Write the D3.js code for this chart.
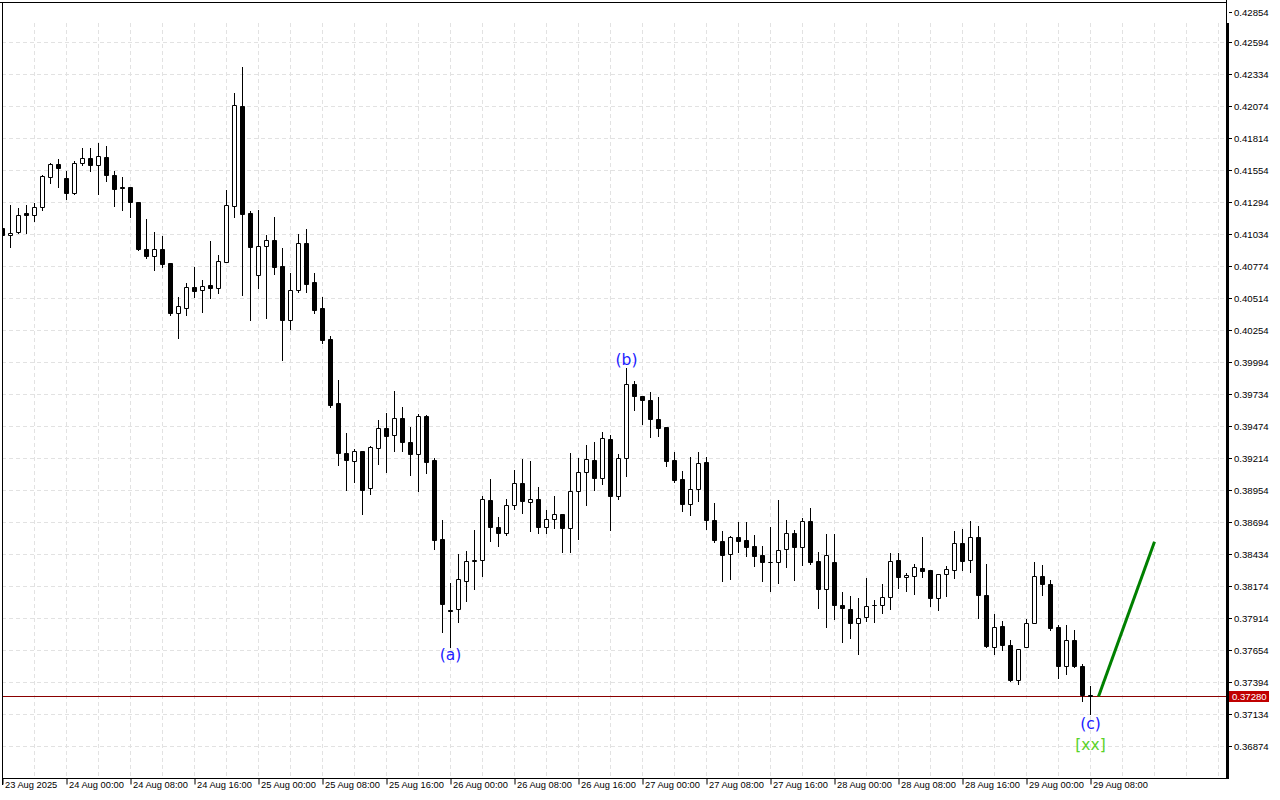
<!DOCTYPE html>
<html><head><meta charset="utf-8">
<script src="https://cdn.jsdelivr.net/npm/d3@7"></script>
<style>html,body{margin:0;padding:0;background:#fff;overflow:hidden}svg{display:block}</style>
</head><body><svg id="c" width="1280" height="800"></svg>
<script>
// ---- DATA (H1 candles, 23 Aug 2025 16:00 .. 29 Aug 2025 08:00) ----
const opens = [0.41084,0.41024,0.41049,0.41201,0.41190,0.41252,0.41496,0.41604,0.41485,0.41369,
0.41613,0.41653,0.41596,0.41661,0.41517,0.41413,0.41414,0.41298,0.40916,0.40857,
0.40916,0.40797,0.40394,0.40434,0.40605,0.40581,0.40616,0.40594,0.40808,0.41263,
0.42078,0.41201,0.40703,0.40938,0.40987,0.40770,0.40337,0.40581,0.40957,0.40640,
0.40429,0.40177,0.39657,0.39251,0.39188,0.39273,0.38969,0.39297,0.39454,0.39403,
0.39541,0.39348,0.39248,0.39559,0.39194,0.38552,0.37979,0.37989,0.38216,0.38381,
0.38389,0.38874,0.38655,0.38603,0.38834,0.39013,0.38858,0.38883,0.38655,0.38720,
0.38763,0.38647,0.38948,0.39102,0.39199,0.39053,0.39372,0.38907,0.39210,0.39819,
0.39714,0.39687,0.39533,0.39462,0.39199,0.39045,0.38842,0.38964,0.39183,0.38712,
0.38541,0.38436,0.38574,0.38549,0.38495,0.38422,0.38371,0.38367,0.38476,0.38606,
0.38493,0.38704,0.38379,0.38148,0.38371,0.38021,0.37990,0.37873,0.37924,0.38020,
0.38021,0.38086,0.38387,0.38249,0.38257,0.38322,0.38300,0.38078,0.38273,0.38306,
0.38525,0.38387,0.38574,0.38103,0.37680,0.37851,0.37696,0.37412,0.37680,0.37875,
0.38254,0.38192,0.37843,0.37526,0.37737,0.37528,0.37290];
const highs = [0.41087,0.41274,0.41247,0.41274,0.41288,0.41517,0.41615,0.41647,0.41550,0.41631,
0.41734,0.41734,0.41777,0.41753,0.41548,0.41501,0.41420,0.41298,0.41160,0.41054,
0.41022,0.40802,0.40526,0.40638,0.40770,0.40664,0.40981,0.40867,0.41396,0.42184,
0.42397,0.41225,0.41233,0.41030,0.41176,0.40922,0.40724,0.41041,0.41079,0.40721,
0.40526,0.40209,0.39852,0.39421,0.39291,0.39275,0.39316,0.39527,0.39584,0.39762,
0.39632,0.39470,0.39576,0.39567,0.39218,0.38714,0.38200,0.38438,0.38465,0.38633,
0.38912,0.39047,0.38739,0.38887,0.39121,0.39210,0.39194,0.38982,0.38796,0.38909,
0.38763,0.39259,0.39221,0.39324,0.39348,0.39429,0.39405,0.39251,0.39947,0.39841,
0.39714,0.39752,0.39711,0.39468,0.39264,0.39110,0.39224,0.39264,0.39224,0.38850,
0.38623,0.38584,0.38696,0.38696,0.38590,0.38503,0.38657,0.38879,0.38714,0.38631,
0.38728,0.38809,0.38452,0.38598,0.38598,0.38133,0.38094,0.38081,0.38243,0.38067,
0.38194,0.38449,0.38449,0.38286,0.38357,0.38576,0.38303,0.38273,0.38338,0.38623,
0.38639,0.38706,0.38666,0.38354,0.37948,0.37891,0.37737,0.37664,0.37912,0.38371,
0.38346,0.38224,0.37859,0.37859,0.37823,0.37544,0.37368];
const lows = [0.41022,0.40935,0.41044,0.41049,0.41146,0.41236,0.41455,0.41422,0.41320,0.41366,
0.41596,0.41552,0.41366,0.41471,0.41268,0.41236,0.41179,0.40908,0.40846,0.40746,
0.40772,0.40380,0.40197,0.40380,0.40526,0.40407,0.40521,0.40561,0.40808,0.41179,
0.40545,0.40342,0.40602,0.40358,0.40711,0.40014,0.40264,0.40564,0.40569,0.40399,
0.40155,0.39635,0.39164,0.38958,0.39026,0.38766,0.38928,0.39172,0.39107,0.39277,
0.39277,0.39082,0.38952,0.39099,0.38481,0.37807,0.37685,0.37888,0.38059,0.38151,
0.38262,0.38546,0.38506,0.38595,0.38806,0.38774,0.38627,0.38606,0.38606,0.38647,
0.38457,0.38452,0.38562,0.38839,0.38961,0.39009,0.38636,0.38885,0.39072,0.39611,
0.39497,0.39391,0.39399,0.39157,0.39027,0.38787,0.38757,0.38871,0.38644,0.38538,
0.38221,0.38237,0.38457,0.38424,0.38343,0.38221,0.38140,0.38205,0.38335,0.38229,
0.38351,0.38359,0.38002,0.37847,0.37912,0.37726,0.37758,0.37623,0.37896,0.37883,
0.37956,0.37994,0.38162,0.38140,0.38116,0.38251,0.38018,0.37986,0.38097,0.38246,
0.38311,0.38289,0.37921,0.37682,0.37628,0.37661,0.37406,0.37379,0.37680,0.37875,
0.38107,0.37818,0.37433,0.37466,0.37522,0.37246,0.37136];
const closes = [0.41024,0.41044,0.41192,0.41187,0.41257,0.41504,0.41604,0.41572,0.41366,0.41613,
0.41653,0.41593,0.41669,0.41512,0.41398,0.41411,0.41292,0.40914,0.40854,0.40916,
0.40792,0.40394,0.40445,0.40605,0.40569,0.40613,0.40594,0.40816,0.41271,0.42084,
0.41195,0.40927,0.40938,0.40987,0.40764,0.40334,0.40583,0.40957,0.40626,0.40415,
0.40173,0.39641,0.39251,0.39196,0.39273,0.38958,0.39305,0.39459,0.39391,0.39541,
0.39342,0.39245,0.39557,0.39180,0.38546,0.38024,0.37971,0.38227,0.38381,0.38385,
0.38883,0.38652,0.38603,0.38836,0.39013,0.38863,0.38883,0.38655,0.38720,0.38763,
0.38644,0.38948,0.39102,0.39208,0.39050,0.39378,0.38904,0.39210,0.39819,0.39716,
0.39687,0.39533,0.39459,0.39190,0.39035,0.38839,0.38964,0.39175,0.38709,0.38546,
0.38424,0.38576,0.38538,0.38489,0.38416,0.38367,0.38367,0.38468,0.38606,0.38493,
0.38704,0.38365,0.38148,0.38422,0.38018,0.37995,0.37872,0.37916,0.38010,0.38022,
0.38086,0.38379,0.38249,0.38265,0.38330,0.38298,0.38075,0.38273,0.38314,0.38525,
0.38379,0.38574,0.38103,0.37685,0.37843,0.37693,0.37409,0.37664,0.37875,0.38255,
0.38192,0.37829,0.37522,0.37737,0.37522,0.37287,0.37280];

const timeLabels = ["23 Aug 2025","24 Aug 00:00","24 Aug 08:00","24 Aug 16:00","25 Aug 00:00","25 Aug 08:00",
"25 Aug 16:00","26 Aug 00:00","26 Aug 08:00","26 Aug 16:00","27 Aug 00:00","27 Aug 08:00","27 Aug 16:00",
"28 Aug 00:00","28 Aug 08:00","28 Aug 16:00","29 Aug 00:00","29 Aug 08:00"];
const priceTicks = [0.42854,0.42594,0.42334,0.42074,0.41814,0.41554,0.41294,0.41034,0.40774,0.40514,
0.40254,0.39994,0.39734,0.39474,0.39214,0.38954,0.38694,0.38434,0.38174,0.37914,0.37654,0.37394,0.37134,0.36874];
const bidPrice = 0.37280;

const waveLabels = ["(a)","(b)","(c)","[xx]"];
const waveIndex  = [56, 78, 136, 136];
const wavePrice  = [0.37617, 0.40018, 0.37057, 0.36890];
const waveColors = ["#2020ff","#2020ff","#2020ff","#5ad22a"];

const projIndex = [137, 144];
const projPrice = [0.37280, 0.38538];

// ---- DRAW ----
const svg = d3.select("#c");
const L = 2, T = 2, R = 1226, B = 778.5;
const candleStep = 8;
const x = d3.scaleLinear().domain([0, 1]).range([2.5, 2.5 + candleStep]);
const y = d3.scaleLinear().domain([0.36874, 0.42854]).range([746.5, 10.5]);
const sn = v => Math.round(v - 0.5) + 0.5;

svg.append("rect").attr("width",1280).attr("height",800).attr("fill","#fff");
const defs = svg.append("defs");
defs.append("clipPath").attr("id","clip").append("rect")
  .attr("x",L).attr("y",T).attr("width",R-L).attr("height",B-T);

const plot = svg.append("g").attr("clip-path","url(#clip)");

// grid
const gridCol = "#e2e2e2";
const vIdx = d3.range(4, 200, 4).filter(i => x(i) < R);
plot.append("g").selectAll("line").data(vIdx).join("line")
  .attr("x1", d => x(d)).attr("x2", d => x(d)).attr("y1", 23).attr("y2", B)
  .attr("stroke", gridCol).attr("stroke-dasharray","4,3").attr("stroke-width",1);
plot.append("g").selectAll("line").data(priceTicks.filter(p => y(p) > 23)).join("line")
  .attr("x1", L).attr("x2", R).attr("y1", d => sn(y(d))).attr("y2", d => sn(y(d)))
  .attr("stroke", gridCol).attr("stroke-dasharray","4,3").attr("stroke-width",1);

// bid line
plot.append("line").attr("x1",L).attr("x2",R)
  .attr("y1", sn(y(bidPrice))).attr("y2", sn(y(bidPrice)))
  .attr("stroke","#8a0000").attr("stroke-width",1);

// candles
const data = opens.map((o,i)=>({i, o, h:highs[i], l:lows[i], c:closes[i]}));
const cg = plot.append("g");
cg.selectAll("line.w").data(data).join("line").attr("class","w")
  .attr("x1", d => x(d.i)).attr("x2", d => x(d.i))
  .attr("y1", d => Math.round(y(d.h))).attr("y2", d => Math.round(y(d.l)) + 1)
  .attr("stroke","#000").attr("stroke-width",1);
cg.selectAll("path.b").data(data).join("path").attr("class","b")
  .attr("d", d => {
    const x0 = x(d.i) - 2, x1 = x(d.i) + 2;
    const yt = sn(y(Math.max(d.o, d.c))), yb = sn(y(Math.min(d.o, d.c)));
    return `M${x0},${yt}H${x1}V${yb}H${x0}Z`;
  })
  .attr("fill", d => d.c > d.o ? "#fff" : "#000")
  .attr("stroke","#000").attr("stroke-width",1);

// projection line
plot.append("path")
  .datum(projIndex.map((d,k)=>[d, projPrice[k]]))
  .attr("d", d3.line().x(d => x(d[0])).y(d => y(d[1])))
  .attr("fill","none").attr("stroke","#008000").attr("stroke-width",3);

// wave labels
svg.append("g").selectAll("text").data(waveLabels).join("text")
  .attr("x", (d,k) => x(waveIndex[k])).attr("y", (d,k) => y(wavePrice[k]))
  .attr("text-anchor","middle").attr("dominant-baseline","central")
  .attr("font-family","DejaVu Sans, sans-serif").attr("font-size", 15.5)
  .attr("fill", (d,k) => waveColors[k]).text(d => d);

// frame
svg.append("line").attr("x1",0).attr("x2",R+0.5).attr("y1",2.5).attr("y2",2.5).attr("stroke","#000");
svg.append("line").attr("x1",2.5).attr("x2",2.5).attr("y1",2).attr("y2",785).attr("stroke","#000");
svg.append("line").attr("x1",2).attr("x2",1229).attr("y1",778.5).attr("y2",778.5).attr("stroke","#000");
svg.append("line").attr("x1",R+0.5).attr("x2",R+0.5).attr("y1",0).attr("y2",23).attr("stroke","#000");
svg.append("rect").attr("x",R).attr("y",23).attr("width",3).attr("height",756).attr("fill","#000");

// price axis
const yAxis = d3.axisRight(y).tickValues(priceTicks).tickFormat(d3.format(".5f")).tickSize(3).tickPadding(2);
const ya = svg.append("g").attr("transform",`translate(${R+3},0)`).call(yAxis);
ya.select(".domain").remove();
ya.selectAll(".tick").attr("transform", d => `translate(0,${Math.max(sn(y(d)), 12.5)})`);
ya.selectAll("text").attr("font-family","Liberation Sans, Arial, sans-serif").attr("font-size",9.6).attr("fill","#000");
ya.selectAll("line").attr("stroke","#000");

// current price tag
const by = sn(y(bidPrice));
svg.append("rect").attr("x",1229).attr("y",by-5.5).attr("width",40).attr("height",11).attr("fill","#c00000");
svg.append("text").attr("x",1232).attr("y",by).attr("dominant-baseline","central")
  .attr("font-family","Liberation Sans, Arial, sans-serif").attr("font-size",9.6).attr("fill","#fff")
  .text(d3.format(".5f")(bidPrice));

// time axis
const tIdx = timeLabels.map((d,k) => k * 8);
const xAxis = d3.axisBottom(x).tickValues(tIdx).tickFormat((d,k) => timeLabels[k]).tickSize(6).tickPadding(0);
const xa = svg.append("g").attr("transform",`translate(0,${B})`).call(xAxis);
xa.select(".domain").remove();
xa.selectAll("line").attr("stroke","#000");
xa.selectAll("text").attr("text-anchor","start").attr("x",2).attr("y",3).attr("dy","0.71em")
  .attr("font-family","Liberation Sans, Arial, sans-serif").attr("font-size",9.3).attr("fill","#000");
</script>
</body></html>
